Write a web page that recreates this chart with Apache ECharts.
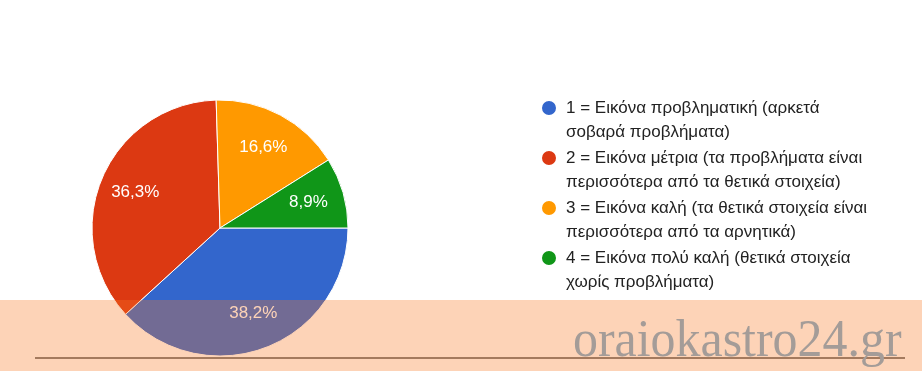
<!DOCTYPE html>
<html>
<head>
<meta charset="utf-8">
<script src="https://cdn.jsdelivr.net/npm/echarts@6/dist/echarts.min.js"></script>
<style>
  html, body { margin: 0; padding: 0; background: #ffffff; }
  #chart { width: 922px; height: 371px; }
</style>
</head>
<body>
<div id="chart"></div>
<script>
// Categories (legend labels, as shown with their line breaks)
var categories = [
  '1 = Εικόνα προβληματική (αρκετά\nσοβαρά προβλήματα)',
  '2 = Εικόνα μέτρια (τα προβλήματα είναι\nπερισσότερα από τα θετικά στοιχεία)',
  '3 = Εικόνα καλή (τα θετικά στοιχεία είναι\nπερισσότερα από τα αρνητικά)',
  '4 = Εικόνα πολύ καλή (θετικά στοιχεία\nχωρίς προβλήματα)'
];
// Response counts (38,2% / 36,3% / 16,6% / 8,9%)
var counts = [60, 57, 26, 14];
var colors = ['#3366cc', '#dc3912', '#ff9900', '#109618'];
var watermark = 'oraiokastro24.gr';

var pieData = categories.map(function (c, i) {
  return { name: c, value: counts[i], itemStyle: { color: colors[i] } };
});
var labelData = categories.map(function (c, i) {
  return { name: c, value: counts[i] };
});

var chart = echarts.init(document.getElementById('chart'), null, { renderer: 'canvas' });
chart.setOption({
  backgroundColor: '#ffffff',
  animation: false,
  legend: {
    orient: 'vertical',
    left: 535,
    top: 67,
    itemWidth: 16,
    itemHeight: 16,
    itemGap: -22,
    icon: 'circle',
    selectedMode: false,
    data: categories,
    // leading empty line keeps the icon level with the first text line
    formatter: function (name) { return '\n' + name; },
    textStyle: {
      fontFamily: '"Liberation Sans", Arial, sans-serif',
      fontSize: 17,
      color: '#222222',
      lineHeight: 24,
      padding: [0, 0, 0, 4]
    }
  },
  series: [
    {
      type: 'pie',
      center: [220, 228],
      radius: [0, 128],
      startAngle: 0,
      clockwise: true,
      silent: true,
      label: { show: false },
      labelLine: { show: false },
      itemStyle: { borderColor: '#ffffff', borderWidth: 1 },
      data: pieData,
      z: 2
    },
    {
      type: 'pie',
      center: [220, 228],
      radius: [50, 128],
      startAngle: 0,
      clockwise: true,
      silent: true,
      percentPrecision: 1,
      itemStyle: { color: 'rgba(0,0,0,0)', borderWidth: 0 },
      label: {
        show: true,
        position: 'inside',
        color: '#ffffff',
        fontFamily: '"Liberation Sans", Arial, sans-serif',
        fontSize: 17,
        formatter: function (p) { return p.percent.toFixed(1).replace('.', ',') + '%'; }
      },
      labelLine: { show: false },
      data: labelData,
      z: 3
    }
  ],
  graphic: [
    {
      type: 'line', z: 99,
      shape: { x1: 35, y1: 358, x2: 905, y2: 358 },
      style: { stroke: '#505050', lineWidth: 1.5 }
    },
    {
      type: 'rect', z: 100,
      shape: { x: 0, y: 300, width: 922, height: 71 },
      style: { fill: 'rgba(249,119,31,0.32)' }
    },
    {
      type: 'text', z: 101,
      x: 573, y: 342, scaleX: 0.96,
      style: {
        text: watermark,
        font: '52px "Liberation Serif", "Times New Roman", serif',
        fill: '#a49c98',
        verticalAlign: 'middle',
        align: 'left'
      }
    }
  ]
});
</script>
</body>
</html>
